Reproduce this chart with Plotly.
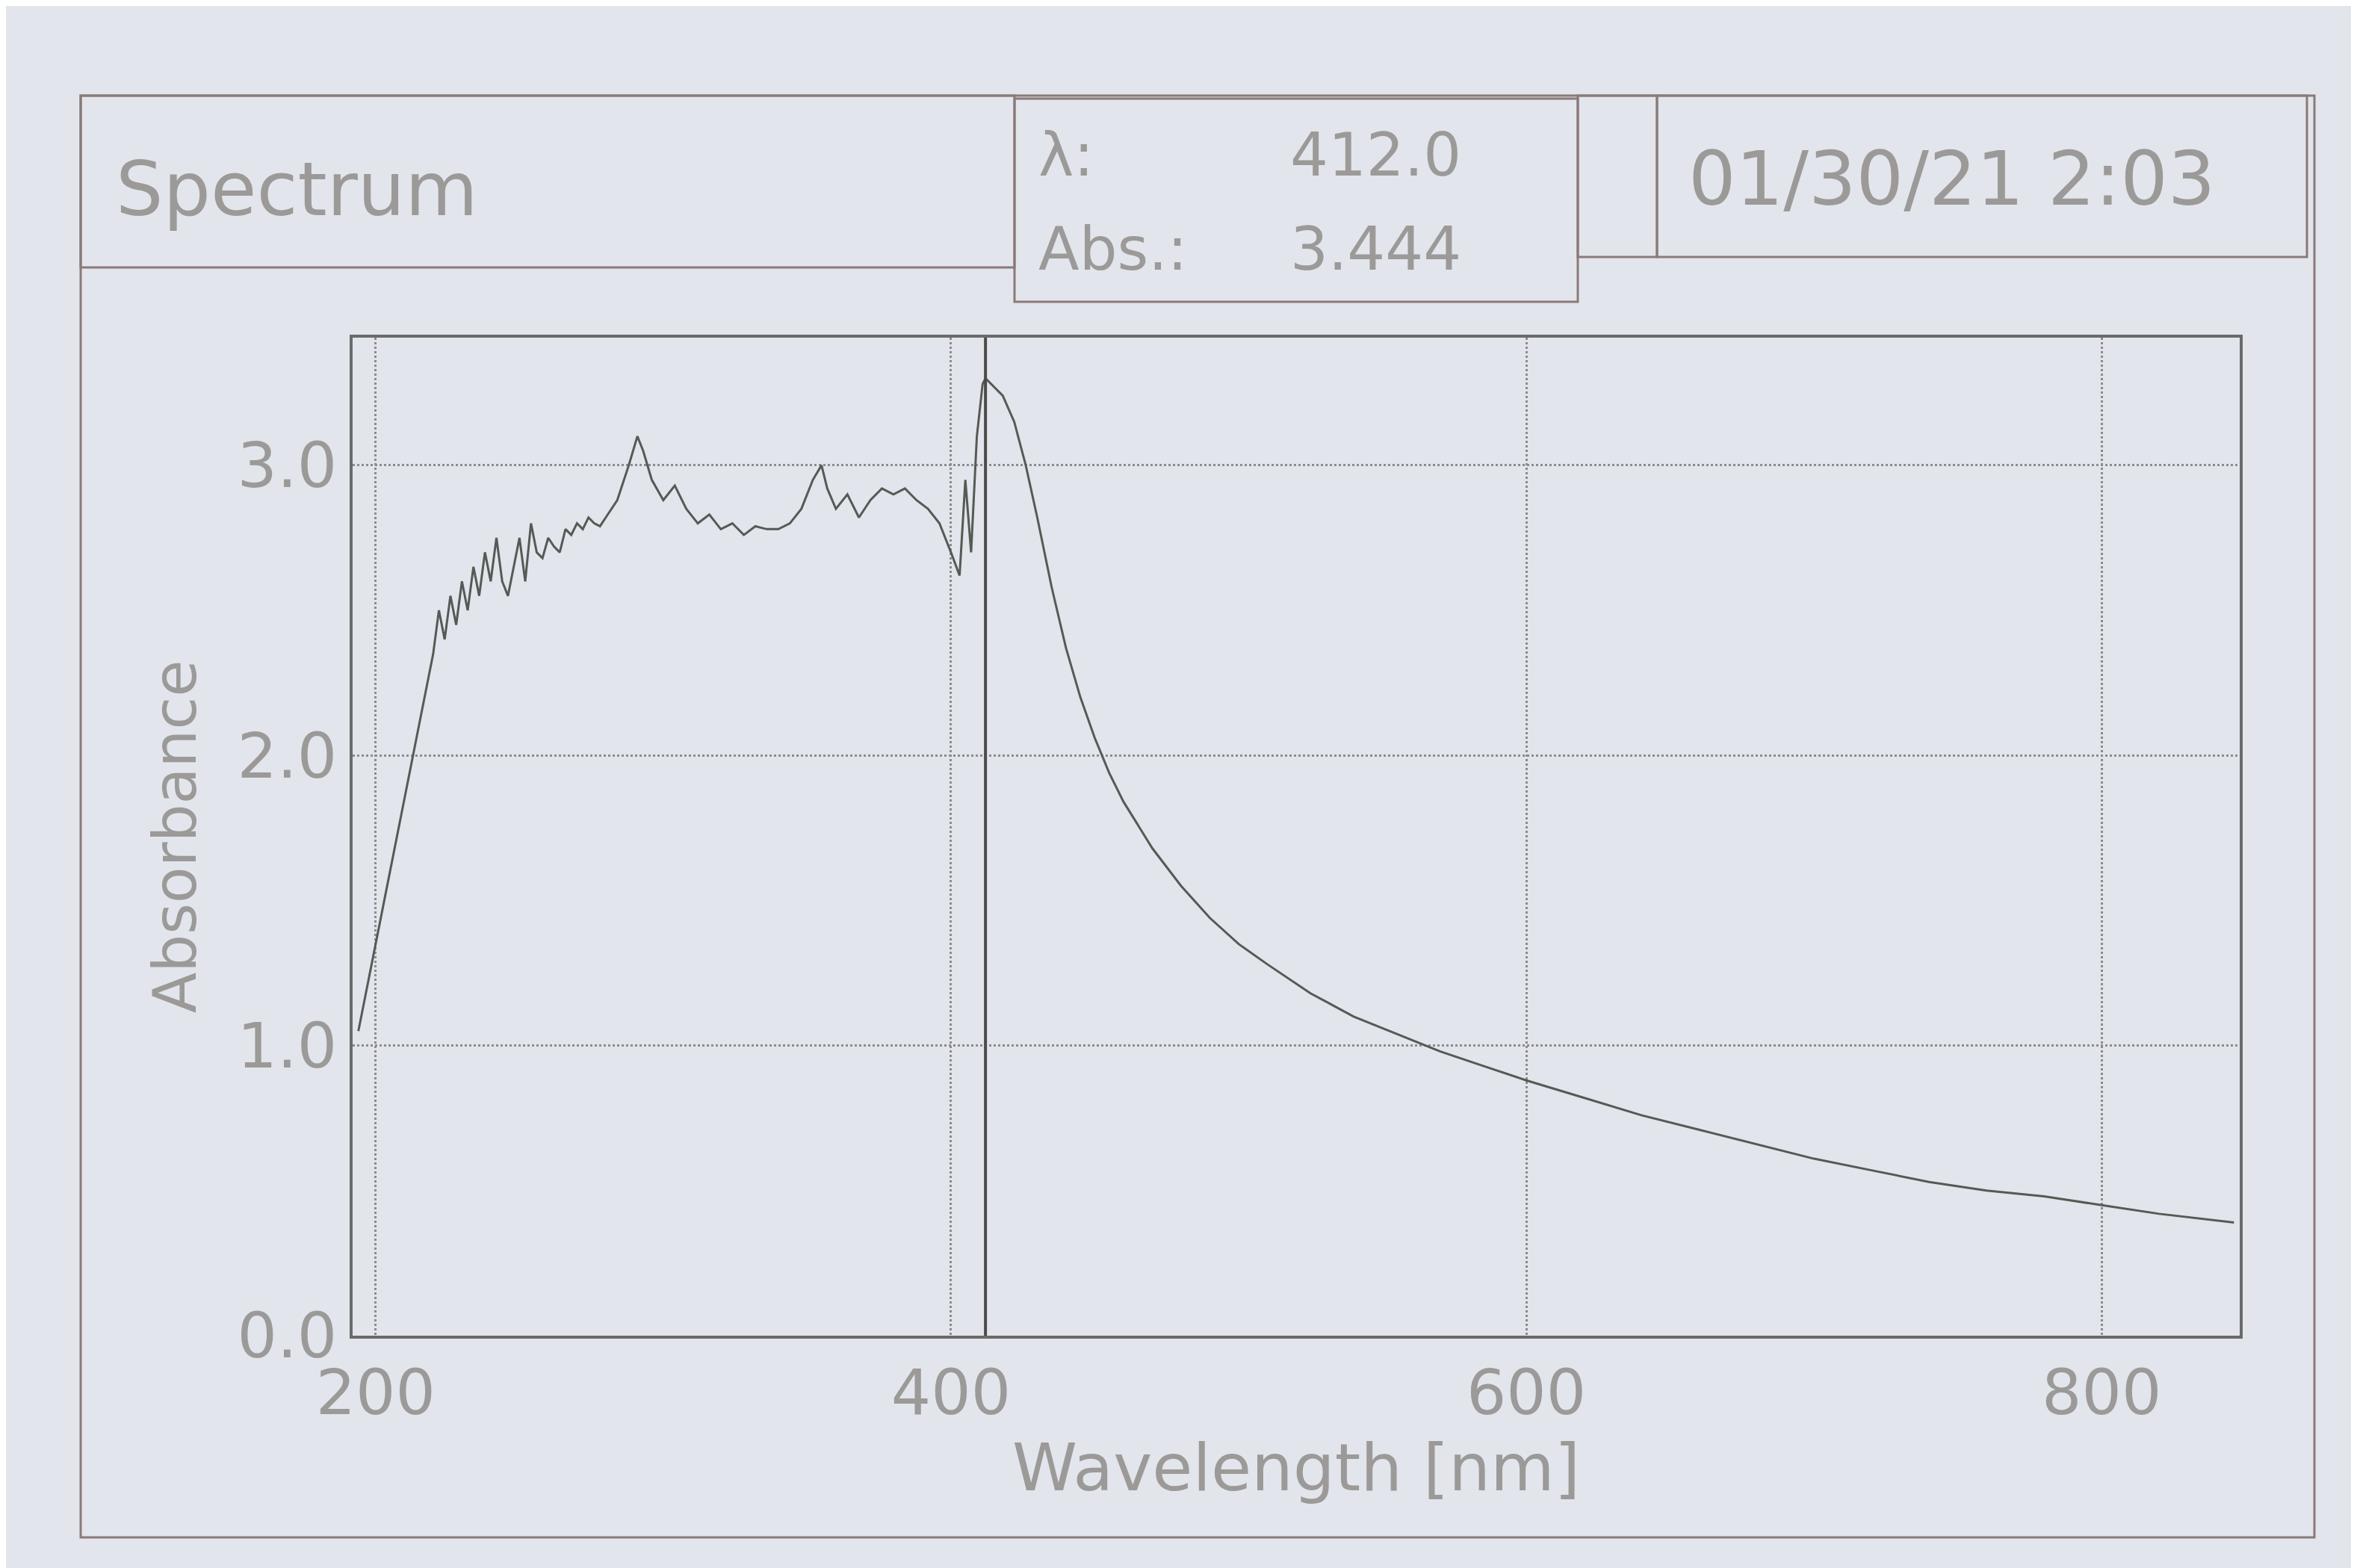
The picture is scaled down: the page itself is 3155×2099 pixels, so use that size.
import plotly.graph_objects as go

# spectrum
wavelength = [194, 196, 200, 205, 210, 215, 220, 222, 224, 226, 228, 230, 232, 234, 236, 238,
              240, 242, 244, 246, 248, 250, 252, 254, 256, 258, 260, 262, 264, 266, 268, 270,
              272, 274, 276, 278, 280, 284, 288, 291, 293, 296, 300, 304, 308, 312, 316, 320,
              324, 328, 332, 336, 340, 344, 348, 352, 355, 357, 360, 364, 368, 372, 376, 380,
              384, 388, 392, 396, 400, 403, 405, 407, 409, 411, 412, 414, 418, 422, 426, 430,
              435, 440, 445, 450, 455, 460, 470, 480, 490, 500, 510, 525, 540, 555, 570, 585,
              600, 620, 640, 660, 680, 700, 720, 740, 760, 780, 800, 820, 846]
absorbance = [1.05, 1.15, 1.35, 1.6, 1.85, 2.1, 2.35, 2.5, 2.4, 2.55, 2.45, 2.6, 2.5, 2.65, 2.55,
              2.7, 2.6, 2.75, 2.6, 2.55, 2.65, 2.75, 2.6, 2.8, 2.7, 2.68, 2.75, 2.72, 2.7, 2.78, 2.76,
              2.8, 2.78, 2.82, 2.8, 2.79, 2.82, 2.88, 3.0, 3.1, 3.05, 2.95, 2.88, 2.93, 2.85, 2.8,
              2.83, 2.78, 2.8, 2.76, 2.79, 2.78, 2.78, 2.8, 2.85, 2.95, 3.0, 2.92, 2.85, 2.9, 2.82,
              2.88, 2.92, 2.9, 2.92, 2.88, 2.85, 2.8, 2.7, 2.62, 2.95, 2.7, 3.1, 3.28, 3.3, 3.28,
              3.24, 3.15, 3.0, 2.82, 2.58, 2.37, 2.2, 2.06, 1.94, 1.84, 1.68, 1.55, 1.44, 1.35,
              1.28, 1.18, 1.1, 1.04, 0.98, 0.93, 0.88, 0.82, 0.76, 0.71, 0.66, 0.61, 0.57, 0.53,
              0.5, 0.48, 0.45, 0.42, 0.39]
cursor_nm = 412.0
cursor_abs = 3.444
x_ticks = [200, 400, 600, 800]
y_ticks = [0.0, 1.0, 2.0, 3.0]

W, H = 3155, 2099
L, R, T, B = 464, 2990, 444, 1780
GREY = "#9c9a98"
LINE = "#6a6a6a"
FONT = "DejaVu Sans"

fig = go.Figure()
fig.add_trace(go.Scatter(x=wavelength, y=absorbance, mode="lines",
                         line=dict(color="#555a55", width=3)))
fig.add_trace(go.Scatter(x=[cursor_nm, cursor_nm], y=[0, cursor_abs], mode="lines",
                         line=dict(color="#4a4a4a", width=4)))


def box(x0, y0, x1, y1):
    # rectangle given in screen pixels
    a0, b0 = (x0 - L) / (R - L), (B - y0) / (B - T)
    a1, b1 = (x1 - L) / (R - L), (B - y1) / (B - T)
    fig.add_shape(type="rect", xref="paper", yref="paper", x0=a0, y0=b0, x1=a1, y1=b1,
                  line=dict(color="#8a7a78", width=3), layer="below")


def text(x, y, s, size, anchor="left"):
    fig.add_annotation(xref="paper", yref="paper", x=(x - L) / (R - L), y=(B - y) / (B - T),
                       text=s, showarrow=False, xanchor=anchor, yanchor="middle",
                       font=dict(family=FONT, size=size, color=GREY))


box(100, 120, 3090, 2050)
box(100, 120, 1350, 350)
box(1350, 124, 2104, 396)
box(2104, 120, 2210, 336)
box(2210, 120, 3080, 336)
text(145, 245, "Spectrum", 100)
text(1380, 200, "λ:", 80)
text(1950, 200, f"{cursor_nm:.1f}", 80, "right")
text(1380, 325, "Abs.:", 80)
text(1950, 325, f"{cursor_abs:.3f}", 80, "right")
text(2250, 232, "01/30/21 2:03", 100)

axis = dict(showline=True, mirror=True, linecolor=LINE, linewidth=4, ticks="",
            showgrid=True, griddash="dot", gridcolor="#8c8c8c", gridwidth=3, zeroline=False,
            tickfont=dict(family=FONT, size=84, color=GREY))
fig.update_xaxes(range=[192, 848], tickvals=x_ticks, **axis,
                 title=dict(text="Wavelength [nm]", font=dict(family=FONT, size=88, color=GREY),
                            standoff=10))
fig.update_yaxes(range=[0, 3.44], tickvals=y_ticks, tickformat=".1f", **axis,
                 title=dict(text="Absorbance", font=dict(family=FONT, size=80, color=GREY),
                            standoff=30))
fig.update_layout(width=W, height=H, showlegend=False,
                  margin=dict(l=L, r=W - R, t=T, b=H - B),
                  paper_bgcolor="#e3e5ec", plot_bgcolor="#e3e5ec")
fig.write_html("out.html")
